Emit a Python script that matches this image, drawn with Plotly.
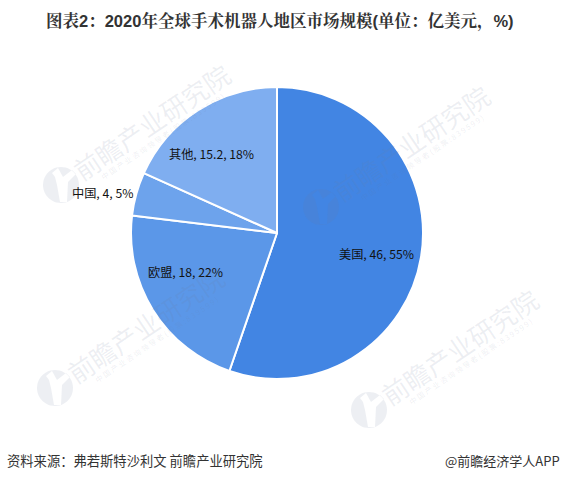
import math
import plotly.graph_objects as go

W = 561
H = 480

regions = ["美国", "欧盟", "中国", "其他"]
sizes = [46, 18, 4, 15.2]
shares = ["55%", "22%", "5%", "18%"]
colors = ["#4285E3", "#5B97E8", "#6DA3EC", "#7FAEF0"]

title = "图表2：2020年全球手术机器人地区市场规模(单位：亿美元，%)"
source = "资料来源：弗若斯特沙利文 前瞻产业研究院"
credit = "@前瞻经济学人APP"
mark_text = "前瞻产业研究院"
mark_sub = " ".join("中国产业咨询领导者(股票:839599)")

labels = [f"{r}, {s}, {p}" for r, s, p in zip(regions, sizes, shares)]

# 标签中心 (像素)
label_pos = [(376, 254), (185, 272), (102, 193), (212, 154)]
# 水印 logo 的位置 (像素)
marks = [(61, 185), (321, 207), (55, 388), (369, 410)]
mark_color = "rgba(110,125,155,0.12)"


def px(x):
    return x / W


def py(y):
    return 1 - y / H


def logo_path(cx, cy, r=18):
    # 圆 + 中间的缺口
    pts = [(cx + r * math.cos(i * math.pi / 24), cy + r * math.sin(i * math.pi / 24)) for i in range(48)]
    d = "M" + " L".join(f"{px(a)},{py(b)}" for a, b in pts) + " Z"
    notch = [(-9, -12), (-3, -17), (2, -8), (11, -15), (15, -11), (7, -3), (6, 17), (-1, 17), (-4, 0), (-6, -8)]
    d += " M" + " L".join(f"{px(cx + a)},{py(cy + b)}" for a, b in notch) + " Z"
    return d


fig = go.Figure()

fig.add_trace(go.Pie(
    labels=regions,
    values=sizes,
    textinfo="none",
    marker=dict(colors=colors, line=dict(color="white", width=2)),
    sort=False,
    direction="clockwise",
    rotation=0,
    showlegend=False,
    hoverinfo="label+value+percent",
    domain=dict(x=[px(131), px(423)], y=[py(379), py(87)]),
))

annotations = [
    dict(text=f"<b>{title}</b>", x=px(280), y=py(22), xanchor="center",
         font=dict(family="Liberation Sans, Noto Serif CJK SC", size=16.5, color="#333333")),
    dict(text=source, x=px(5), y=py(460), xanchor="left",
         font=dict(family="Noto Sans CJK SC", size=13.3, color="#333333")),
    dict(text=credit, x=px(562), y=py(460), xanchor="right",
         font=dict(family="Noto Sans CJK SC", size=13, color="#333333")),
]

for text, (lx, ly) in zip(labels, label_pos):
    annotations.append(dict(text=text, x=px(lx), y=py(ly), xanchor="center",
                            font=dict(family="Noto Sans CJK SC", size=12.2, color="#111111")))

shapes = []
for mx, my in marks:
    annotations.append(dict(text=mark_text, x=px(mx + 90), y=py(my - 64), xanchor="center", textangle=-34,
                            font=dict(family="Noto Sans CJK SC", size=26, color=mark_color)))
    annotations.append(dict(text=mark_sub, x=px(mx + 101), y=py(my - 49), xanchor="center", textangle=-34,
                            font=dict(family="Noto Sans CJK SC", size=7.5, color=mark_color)))
    shapes.append(dict(type="path", xref="paper", yref="paper", path=logo_path(mx, my),
                       fillcolor=mark_color, fillrule="evenodd", line=dict(width=0), layer="above"))

for a in annotations:
    a["xref"] = "paper"
    a["yref"] = "paper"
    a["yanchor"] = "middle"
    a["showarrow"] = False

fig.update_layout(
    width=W,
    height=H,
    margin=dict(l=0, r=0, t=0, b=0),
    paper_bgcolor="white",
    annotations=annotations,
    shapes=shapes,
)

# body 默认有 8px 的 margin
fig.write_html("out.html", config=dict(displayModeBar=False), post_script="document.body.style.margin='0';")
